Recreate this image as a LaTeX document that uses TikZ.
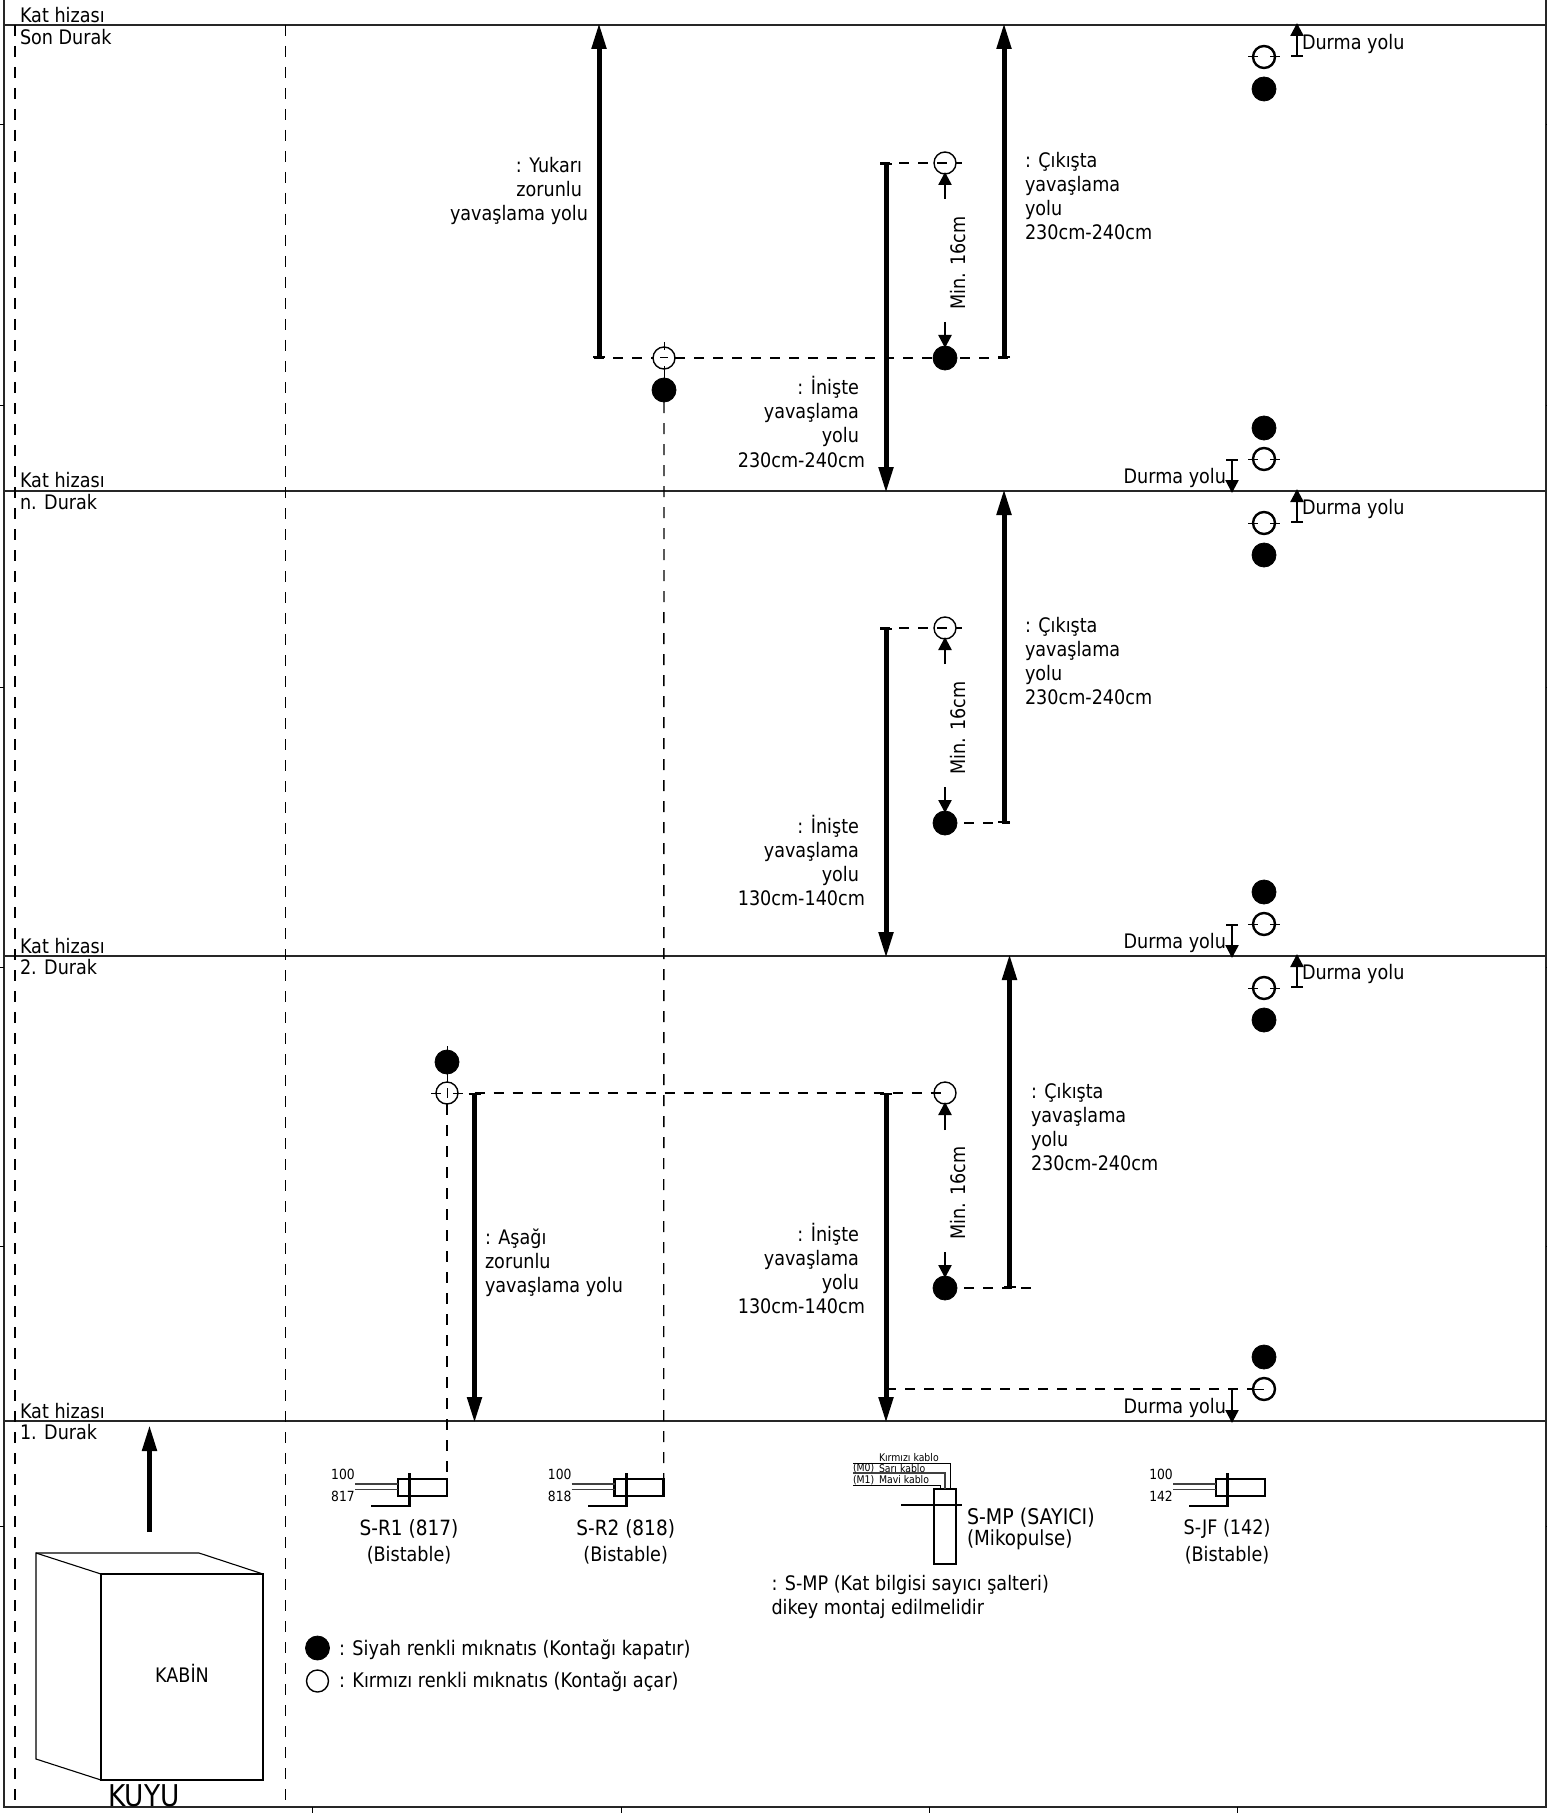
\documentclass[tikz,border=0pt]{standalone}
\usepackage{fontspec}
\setmainfont{DejaVu Sans}[FakeStretch=0.88]
\usetikzlibrary{arrows.meta}

\tikzstyle{every node}=[inner sep=0pt,outer sep=0pt,font=\fontsize{10pt}{12pt}\selectfont]
\tikzstyle{floorline}=[line width=0.8pt,draw=black!85]
\tikzstyle{shaftline}=[line width=0.7pt,dash pattern=on 5.5pt off 5pt]
\tikzstyle{levelline}=[line width=0.55pt,dash pattern=on 5pt off 4.5pt]
\tikzstyle{heavyarrow}=[line width=2.5pt,{Bar[width=6pt,line width=1pt]}-{Triangle[length=13pt,width=7pt,sep=-1pt]}]
\tikzstyle{slimarrow}=[line width=1.2pt,-{Triangle[length=6.5pt,width=6.5pt,sep=-1pt]}]
\tikzstyle{stoparrow}=[line width=1.2pt,{Bar[width=6pt,line width=1pt]}-{Triangle[length=6.5pt,width=6.5pt,sep=-1pt]}]
\tikzstyle{blackmag}=[circle,fill=black,draw=black,minimum size=12pt]
\tikzstyle{redmag}=[circle,draw=black,line width=0.7pt,minimum size=11pt]
\tikzstyle{redmagb}=[circle,draw=black,line width=1.2pt,minimum size=11pt]
\tikzstyle{magtick}=[line width=0.5pt]
\tikzstyle{lefttext}=[anchor=west,align=left]
\tikzstyle{righttext}=[anchor=east,align=right]
\tikzstyle{midtext}=[align=center,font=\fontsize{10.5pt}{12pt}\selectfont]
\tikzstyle{midtextb}=[align=center]
\tikzstyle{swbody}=[line width=1.3pt]
\tikzstyle{swwire}=[line width=0.8pt,draw=black!75]
\tikzstyle{wirenum}=[font=\fontsize{7pt}{8pt}\selectfont]
\tikzstyle{cabletext}=[anchor=west,font=\fontsize{5.3pt}{6pt}\selectfont]

\begin{document}
\begin{tikzpicture}[x=0.5pt,y=-0.5pt]
\useasboundingbox (0,0) rectangle (1547,1813);

%% Draw frame and floor lines
\coordinate (fTL) at (4,0);
\coordinate (fBL) at (4,1807);
\coordinate (fTR) at (1546,0);
\coordinate (fBR) at (1546,1807);
\draw[floorline] (fTL) -- (fBL) -- (fBR) -- (fTR);
\draw[floorline] (4,25) -- (1546,25);
\draw[floorline] (4,491) -- (1546,491);
\draw[floorline] (4,956) -- (1546,956);
\draw[floorline] (4,1421) -- (1546,1421);
\foreach \tickx in {312,621,929,1237}
    \draw[line width=0.5pt] (\tickx,1807) -- (\tickx,1813);
\foreach \ticky in {125,405,687,967,1246,1526} {
    \draw[line width=0.5pt] (0,\ticky) -- (4,\ticky);
    \draw[line width=0.5pt] (1546,\ticky) -- (1547,\ticky);
}
\coordinate (shL1) at (15,25);
\coordinate (shL2) at (15,1807);
\coordinate (shR1) at (285.5,25);
\coordinate (shR2) at (285.5,1807);
\draw[shaftline] (shL1) -- (shL2);
\draw[shaftline] (shR1) -- (shR2);

%% Floor names
\node (katA)[anchor=west] at (20,15) {Kat hizası};
\node (durA)[anchor=west] at (20,37) {Son Durak};
\node (katB)[anchor=west] at (20,480) {Kat hizası};
\node (durB)[anchor=west] at (20,502) {n. Durak};
\node (katC)[anchor=west] at (20,946) {Kat hizası};
\node (durC)[anchor=west] at (20,967) {2. Durak};
\node (katD)[anchor=west] at (20,1411) {Kat hizası};
\node (durD)[anchor=west] at (20,1432) {1. Durak};

%% Last stop
\node (rY)[redmag] at (664,358) {};
\node (bY)[blackmag] at (664,390) {};
\node (rT)[redmag] at (945,163) {};
\node (bT)[blackmag] at (945,358) {};
\coordinate (yuTail) at (599,358);
\coordinate (yuTip) at (599,25);
\coordinate (inTail) at (886,163);
\coordinate (inTip) at (886,491);
\coordinate (ciTail) at (1004,358);
\coordinate (ciTip) at (1004,25);
\draw[levelline] (594,358) -- (rY.west);
\draw[levelline] (rY.east) -- (bT.center) -- (1010,358);
\draw[levelline] (880,163) -- (rT.center) -- (962,163);
\draw[magtick] ([yshift=8pt]rY.center) -- ([yshift=4pt]rY.center);
\draw[magtick] ([yshift=-4pt]rY.center) -- (bY);
\draw[magtick] ([xshift=-2pt]rY.center) -- ([xshift=2pt]rY.center);
\draw[heavyarrow] (yuTail) -- (yuTip);
\draw[heavyarrow] (inTail) -- (inTip);
\draw[heavyarrow] (ciTail) -- (ciTip);
\draw[slimarrow] (945,199) -- (rT);
\draw[slimarrow] (945,322) -- (bT);
\node (minT)[rotate=90] at (958,263) {Min. 16cm};
\node (yuText)[righttext] at (588,190.5) {: Yukarı\kern3pt\\zorunlu\kern3pt\\yavaşlama yolu};
\node (inText)[righttext] at (865,422) {: İnişte\kern3pt\\yavaşlama\kern3pt\\yolu\kern3pt\\230cm-240cm};
\node (ciText)[lefttext] at (1025,196) {: Çıkışta\\yavaşlama\\yolu\\230cm-240cm};

%% n. stop
\node (rN)[redmag] at (945,628) {};
\node (bN)[blackmag] at (945,823) {};
\coordinate (inTailN) at (886,628);
\coordinate (inTipN) at (886,956);
\coordinate (ciTailN) at (1004,823);
\coordinate (ciTipN) at (1004,491);
\draw[levelline] (880,628) -- (rN.center) -- (962,628);
\draw[levelline] (bN.center) -- (1010,823);
\draw[heavyarrow] (inTailN) -- (inTipN);
\draw[heavyarrow] (ciTailN) -- (ciTipN);
\draw[slimarrow] (945,664) -- (rN);
\draw[slimarrow] (945,787) -- (bN);
\node (minN)[rotate=90] at (958,728) {Min. 16cm};
\node (inTextN)[righttext] at (865,860.5) {: İnişte\kern3pt\\yavaşlama\kern3pt\\yolu\kern3pt\\130cm-140cm};
\node (ciTextN)[lefttext] at (1025,661) {: Çıkışta\\yavaşlama\\yolu\\230cm-240cm};

%% 2. stop
\node (bA)[blackmag] at (447,1062) {};
\node (rA)[redmag] at (447,1093) {};
\node (rC)[redmag] at (945,1093) {};
\node (bC)[blackmag] at (945,1288) {};
\node (rS)[redmagb] at (1264,1389) {};
\coordinate (asTail) at (474.5,1093);
\coordinate (asTip) at (474.5,1421);
\coordinate (inTailC) at (886,1093);
\coordinate (inTipC) at (886,1421);
\coordinate (ciTailC) at (1009.5,1288);
\coordinate (ciTipC) at (1009.5,956);
\draw[levelline] (asTail) -- (rC.center);
\draw[levelline] (bC.center) -- (1032,1288);
\draw[levelline] (inTailC |- rS) -- (rS.west);
\draw[magtick] (rS.west) -- (rS.center);
\draw[magtick] ([yshift=8pt]bA.center) -- (rA.north);
\draw[magtick] ([yshift=2.5pt]rA.center) -- ([yshift=-2.5pt]rA.center);
\draw[magtick] ([xshift=-8pt]rA.center) -- ([xshift=-3pt]rA.center);
\draw[magtick] ([xshift=3pt]rA.center) -- ([xshift=8pt]rA.center);
\draw[heavyarrow] (asTail) -- (asTip);
\draw[heavyarrow] (inTailC) -- (inTipC);
\draw[heavyarrow] (ciTailC) -- (ciTipC);
\draw[slimarrow] (945,1130) -- (rC);
\draw[slimarrow] (945,1252) -- (bC);
\node (minC)[rotate=90] at (958,1193) {Min. 16cm};
\node (asText)[lefttext] at (485,1262.5) {: Aşağı\\zorunlu\\yavaşlama yolu};
\node (inTextC)[righttext] at (865,1268.5) {: İnişte\kern3pt\\yavaşlama\kern3pt\\yolu\kern3pt\\130cm-140cm};
\node (ciTextC)[lefttext] at (1031,1127) {: Çıkışta\\yavaşlama\\yolu\\230cm-240cm};

%% Stop magnets
\begin{scope}
    \node (rU1)[redmagb] at (1264,57) {};
    \node (bU1)[blackmag] at (1264,89) {};
    \draw[magtick] ([xshift=-8pt]rU1.center) -- ([xshift=-3pt]rU1.center);
    \draw[magtick] ([xshift=3pt]rU1.center) -- ([xshift=8pt]rU1.center);
    \draw[stoparrow] (1297,57) -- (1297,25);
    \node (duU1)[anchor=west] at (1302,44) {Durma yolu};
    \node (bD1)[blackmag] at (1264,428) {};
    \node (rD1)[redmagb] at (1264,459) {};
    \draw[magtick] ([xshift=-8pt]rD1.center) -- ([xshift=-3pt]rD1.center);
    \draw[magtick] ([xshift=3pt]rD1.center) -- ([xshift=8pt]rD1.center);
    \draw[stoparrow] (1232,459) -- (1232,491);
    \node (duD1)[anchor=east] at (1226,478) {Durma yolu};
\end{scope}
\begin{scope}
    \node (rU2)[redmagb] at (1264,523) {};
    \node (bU2)[blackmag] at (1264,555) {};
    \draw[magtick] ([xshift=-8pt]rU2.center) -- ([xshift=-3pt]rU2.center);
    \draw[magtick] ([xshift=3pt]rU2.center) -- ([xshift=8pt]rU2.center);
    \draw[stoparrow] (1297,523) -- (1297,491);
    \node (duU2)[anchor=west] at (1302,509) {Durma yolu};
    \node (bD2)[blackmag] at (1264,892) {};
    \node (rD2)[redmagb] at (1264,924) {};
    \draw[magtick] ([xshift=-8pt]rD2.center) -- ([xshift=-3pt]rD2.center);
    \draw[magtick] ([xshift=3pt]rD2.center) -- ([xshift=8pt]rD2.center);
    \draw[stoparrow] (1232,924) -- (1232,956);
    \node (duD2)[anchor=east] at (1226,943) {Durma yolu};
\end{scope}
\begin{scope}
    \node (rU3)[redmagb] at (1264,988) {};
    \node (bU3)[blackmag] at (1264,1020) {};
    \draw[magtick] ([xshift=-8pt]rU3.center) -- ([xshift=-3pt]rU3.center);
    \draw[magtick] ([xshift=3pt]rU3.center) -- ([xshift=8pt]rU3.center);
    \draw[stoparrow] (1297,988) -- (1297,956);
    \node (duU3)[anchor=west] at (1302,974) {Durma yolu};
    \node (bD3)[blackmag] at (1264,1357) {};
    \draw[line width=1.2pt,-{Triangle[length=6.5pt,width=6.5pt,sep=-1pt]}] (1232,1389) -- (1232,1421);
    \node (duD3)[anchor=east] at (1226,1408) {Durma yolu};
\end{scope}

%% Switches
\begin{scope}[shift={(0,0)}]
    \coordinate (srA) at (447,1479);
    \draw[swbody] (398,1479) rectangle (447,1496);
    \draw[swbody] (409.6,1473) -- (409.6,1506) -- (371,1506);
    \draw[swwire] (355,1484) -- (398,1484);
    \draw[swwire] (355,1489.5) -- (398,1489.5);
    \node (nA1)[wirenum] at (343,1474) {100};
    \node (nA2)[wirenum] at (343,1496) {817};
    \node (srAn)[midtext] at (409,1529) {S-R1 (817)};
    \node (srAb)[midtextb] at (409,1555) {(Bistable)};
\end{scope}
\begin{scope}[shift={(216.7,0)}]
    \coordinate (srB) at (447,1479);
    \draw[swbody] (398,1479) rectangle (447,1496);
    \draw[swbody] (409.6,1473) -- (409.6,1506) -- (371,1506);
    \draw[swwire] (355,1484) -- (398,1484);
    \draw[swwire] (355,1489.5) -- (398,1489.5);
    \node (nB1)[wirenum] at (343,1474) {100};
    \node (nB2)[wirenum] at (343,1496) {818};
    \node (srBn)[midtext] at (409,1529) {S-R2 (818)};
    \node (srBb)[midtextb] at (409,1555) {(Bistable)};
\end{scope}
\begin{scope}[shift={(818,0)}]
    \draw[swbody] (398,1479) rectangle (447,1496);
    \draw[swbody] (409.6,1473) -- (409.6,1506) -- (371,1506);
    \draw[swwire] (355,1484) -- (398,1484);
    \draw[swwire] (355,1489.5) -- (398,1489.5);
    \node (nJ1)[wirenum] at (343,1474) {100};
    \node (nJ2)[wirenum] at (343,1496) {142};
    \node (sjn)[midtextb] at (409,1529) {S-JF (142)};
    \node (sjb)[midtextb] at (409,1555) {(Bistable)};
\end{scope}
\draw[shaftline] (rA.south) -- (srA);
\draw[shaftline] (bY) -- (srB);

%% S-MP
\draw[swbody] (934,1489) rectangle (956,1564);
\draw[swbody] (901,1505) -- (962,1505);
\draw[line width=0.5pt] (853,1463) -- (950,1463) -- (950,1489);
\draw[line width=0.7pt,draw=black!75] (853,1473) -- (945,1473) -- (945,1489);
\draw[line width=0.5pt] (853,1485) -- (940,1485) -- (940,1489);
\node (cabA)[cabletext] at (879,1458) {Kırmızı kablo};
\node (cabB)[cabletext] at (853,1468.5) {(M0)};
\node (cabC)[cabletext] at (879,1468.5) {Sarı kablo};
\node (cabD)[cabletext] at (853,1480) {(M1)};
\node (cabE)[cabletext] at (879,1480) {Mavi kablo};
\node (mpA)[anchor=west,font=\fontsize{10.8pt}{12pt}\selectfont] at (967,1518) {S-MP (SAYICI)};
\node (mpB)[anchor=west,font=\fontsize{10.4pt}{12pt}\selectfont] at (967,1540) {(Mikopulse)};
\node (mpC)[anchor=west] at (771.5,1584.5) {: S-MP (Kat bilgisi sayıcı şalteri)};
\node (mpD)[anchor=west] at (771.5,1608.5) {dikey montaj edilmelidir};

%% Cabin
\coordinate (upTail) at (149.5,1532);
\coordinate (upTip) at (149.5,1427);
\draw[line width=2.5pt,-{Triangle[length=13pt,width=7pt,sep=-1pt]}] (upTail) -- (upTip);
\draw[line width=0.55pt] (101,1574) rectangle (263,1780);
\draw[line width=0.55pt] (101,1780) -- (36,1759) -- (36,1553) -- (101,1574);
\draw[line width=0.55pt] (36,1553) -- (199,1553) -- (263,1574);
\node (kabin) at (182,1673) {KABİN};
\node (kuyu)[font=\fontsize{15pt}{15pt}\selectfont] at (144,1796) {KUYU};

%% Legend
\node (legB)[blackmag] at (317.5,1648) {};
\node (legR)[redmag] at (317.5,1681) {};
\node (legBt)[anchor=west,font=\fontsize{10.05pt}{12pt}\selectfont] at (339,1650) {: Siyah renkli mıknatıs (Kontağı kapatır)};
\node (legRt)[anchor=west,font=\fontsize{10.05pt}{12pt}\selectfont] at (339,1682) {: Kırmızı renkli mıknatıs (Kontağı açar)};
\end{tikzpicture}
\end{document}
